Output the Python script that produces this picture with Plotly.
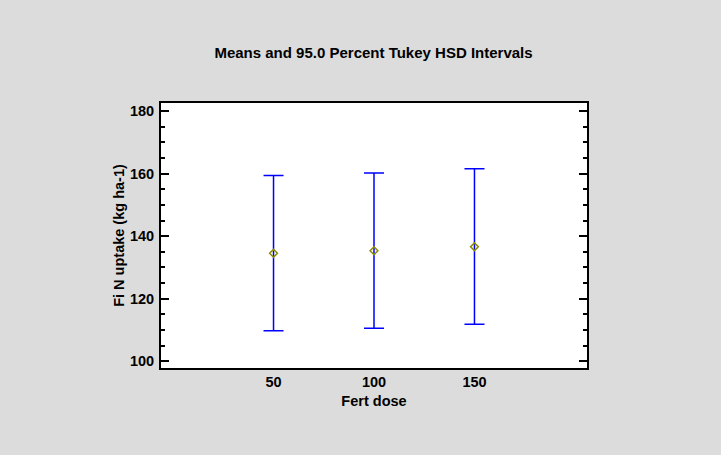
import plotly.graph_objects as go

# Fertiliser dose groups and their means with Tukey HSD interval limits
doses = [50, 100, 150]
dose_labels = ["50", "100", "150"]
means = [134.5, 135.3, 136.6]
upper = [159.4, 160.2, 161.6]
lower = [109.7, 110.5, 111.8]

err_plus = [u - m for u, m in zip(upper, means)]
err_minus = [m - l for m, l in zip(means, lower)]

FONT = "Arial, Liberation Sans, sans-serif"
FS = 14.5

fig = go.Figure()
fig.add_trace(go.Scatter(
    x=doses,
    y=means,
    mode="markers",
    marker=dict(symbol="diamond-open", size=6, color="#8c8c00",
                line=dict(width=1.5, color="#8c8c00")),
    error_y=dict(type="data", symmetric=False, array=err_plus,
                 arrayminus=err_minus, color="#0000ff", thickness=1.5,
                 width=10),
    showlegend=False,
    hoverinfo="x+y",
))

fig.update_layout(
    width=721,
    height=455,
    margin=dict(l=161, r=134, t=103, b=87),
    paper_bgcolor="#dcdcdc",
    plot_bgcolor="#ffffff",
    font=dict(family=FONT, color="#000000"),
    title=dict(text="<b>Means and 95.0 Percent Tukey HSD Intervals</b>",
               x=373.5 / 721, xanchor="center", y=1 - 53 / 455,
               yanchor="middle", font=dict(size=15, family=FONT)),
)

fig.update_xaxes(
    range=[-6, 206],
    tickvals=doses,
    ticktext=[f"<b>{t}</b>" for t in dose_labels],
    ticks="",
    tickfont=dict(size=FS, family=FONT),
    showgrid=False,
    zeroline=False,
    showline=True,
    linecolor="#000000",
    linewidth=2,
    mirror=True,
    title=dict(text="<b>Fert dose</b>", font=dict(size=FS, family=FONT),
               standoff=6),
)

fig.update_yaxes(
    range=[97.8, 182.6],
    tickvals=[100, 120, 140, 160, 180],
    ticktext=["<b>100</b>", "<b>120</b>", "<b>140</b>", "<b>160</b>", "<b>180</b>"],
    ticks="inside",
    ticklen=8,
    tickwidth=1.5,
    tickcolor="#000000",
    minor=dict(tickvals=[105, 110, 115, 125, 130, 135, 145, 150, 155,
                         165, 170, 175],
               ticks="inside", ticklen=4, tickwidth=1.5,
               tickcolor="#000000", showgrid=False),
    ticklabelstandoff=2,
    tickfont=dict(size=FS, family=FONT),
    showgrid=False,
    zeroline=False,
    showline=True,
    linecolor="#000000",
    linewidth=2,
    mirror="ticks",
    title=dict(text="<b>Fi N uptake (kg ha-1)</b>",
               font=dict(size=FS, family=FONT), standoff=2),
)

fig.write_html("out.html")
